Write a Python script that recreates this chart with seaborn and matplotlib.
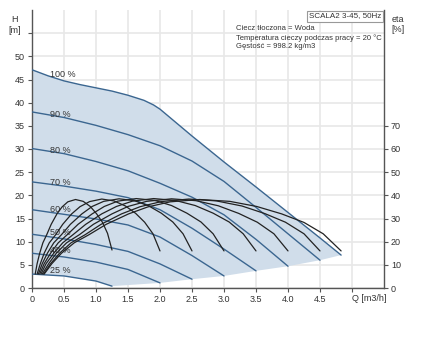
import matplotlib
matplotlib.use("Agg")
import matplotlib.pyplot as plt
import seaborn as sns
import pandas as pd

sns.set_style("whitegrid")
plt.rcParams['font.family'] = ['Liberation Sans', 'DejaVu Sans']
plt.rcParams['font.size'] = 7

# krzywe pompy: Q [m3/h], H [m]
q_100 = [0, 0.25, 0.5, 0.75, 1.0, 1.25, 1.5, 1.75, 1.9, 2.0, 2.25, 2.5, 3.0, 3.5, 4.0, 4.5, 4.83]
h_100 = [47.1, 45.8, 44.7, 43.9, 43.2, 42.5, 41.6, 40.5, 39.5, 38.6, 35.7, 32.8, 27.2, 21.8, 16.3, 10.8, 7.1]
q_90 = [0, 0.5, 1.0, 1.5, 2.0, 2.5, 3.0, 3.5, 4.0, 4.5]
h_90 = [38.0, 36.8, 35.1, 33.1, 30.7, 27.4, 23.0, 17.4, 11.7, 6.0]
q_80 = [0, 0.5, 1.0, 1.5, 2.0, 2.5, 3.0, 3.5, 4.0]
h_80 = [30.1, 29.0, 27.3, 25.3, 22.6, 19.6, 15.8, 10.5, 4.7]
q_70 = [0, 0.5, 1.0, 1.5, 2.0, 2.5, 3.0, 3.5]
h_70 = [22.9, 22.0, 20.9, 19.5, 16.9, 12.9, 8.4, 3.7]
q_60 = [0, 0.5, 1.0, 1.5, 2.0, 2.5, 3.0]
h_60 = [16.9, 15.9, 14.9, 13.6, 11.0, 7.0, 2.6]
q_50 = [0, 0.5, 1.0, 1.5, 2.0, 2.5]
h_50 = [11.6, 10.6, 9.4, 7.9, 5.2, 1.9]
q_40 = [0, 0.5, 1.0, 1.5, 2.0]
h_40 = [7.5, 6.7, 5.6, 4.0, 1.1]
q_25 = [0, 0.5, 1.0, 1.25]
h_25 = [3.0, 2.6, 1.5, 0.4]

etykiety = ['100 %', '90 %', '80 %', '70 %', '60 %', '50 %', '40 %', '25 %']
etykiety_h = [46.1, 37.5, 29.7, 22.7, 17.0, 11.9, 8.0, 3.7]

# krzywe sprawnosci: Q [m3/h], eta [%]
eq_25 = [0.05, 0.08, 0.12, 0.17, 0.23, 0.30, 0.39, 0.47, 0.56, 0.68, 0.80, 0.91, 1.01, 1.10, 1.18, 1.25]
eq_40 = [0.08, 0.13, 0.19, 0.27, 0.37, 0.48, 0.62, 0.75, 0.90, 1.09, 1.28, 1.46, 1.62, 1.76, 1.89, 2.0]
eq_50 = [0.10, 0.16, 0.24, 0.34, 0.46, 0.60, 0.78, 0.94, 1.12, 1.36, 1.60, 1.82, 2.02, 2.20, 2.36, 2.5]
eq_60 = [0.12, 0.19, 0.29, 0.41, 0.55, 0.72, 0.94, 1.13, 1.34, 1.63, 1.92, 2.18, 2.42, 2.64, 2.83, 3.0]
eq_70 = [0.14, 0.22, 0.34, 0.48, 0.64, 0.84, 1.09, 1.32, 1.57, 1.90, 2.24, 2.55, 2.83, 3.08, 3.30, 3.5]
eq_80 = [0.16, 0.26, 0.38, 0.54, 0.74, 0.96, 1.25, 1.50, 1.79, 2.18, 2.56, 2.91, 3.23, 3.52, 3.78, 4.0]
eq_90 = [0.18, 0.29, 0.43, 0.61, 0.83, 1.08, 1.40, 1.69, 2.02, 2.45, 2.88, 3.28, 3.64, 3.96, 4.25, 4.5]
eq_100 = [0.19, 0.31, 0.46, 0.66, 0.89, 1.16, 1.51, 1.81, 2.16, 2.62, 3.09, 3.51, 3.90, 4.25, 4.55, 4.83]
eta_25 = [6.0, 10.5, 15.0, 19.5, 23.0, 27.5, 32.0, 35.0, 37.2, 38.2, 37.4, 35.2, 32.0, 28.4, 23.6, 16.4]
eta_40 = [6.0, 10.5, 15.0, 19.5, 23.0, 27.5, 32.0, 35.1, 37.3, 38.4, 37.6, 35.4, 32.2, 28.4, 23.4, 16.0]
eta_50 = [6.0, 10.5, 15.0, 19.5, 23.0, 27.5, 32.0, 35.2, 37.4, 38.5, 37.7, 35.5, 32.3, 28.5, 23.4, 16.0]
eta_60 = [6.0, 10.5, 15.0, 19.5, 23.0, 27.5, 32.0, 35.2, 37.5, 38.6, 37.8, 35.6, 32.3, 28.5, 23.4, 16.0]
eta_70 = [6.0, 10.5, 15.0, 19.5, 23.0, 27.5, 32.0, 35.2, 37.5, 38.6, 37.8, 35.6, 32.3, 28.5, 23.4, 16.0]
eta_80 = [6.0, 10.5, 15.0, 19.5, 23.0, 27.5, 32.0, 35.2, 37.4, 38.5, 37.7, 35.5, 32.2, 28.4, 23.4, 16.0]
eta_90 = [6.0, 10.5, 15.0, 19.5, 23.0, 27.5, 32.0, 35.1, 37.3, 38.4, 37.6, 35.4, 32.1, 28.4, 23.4, 16.0]
eta_100 = [6.0, 10.5, 15.0, 19.5, 23.0, 27.5, 32.0, 35.0, 37.2, 38.2, 37.4, 35.2, 32.0, 28.3, 23.4, 16.0]

krzywe = [(q_100, h_100), (q_90, h_90), (q_80, h_80), (q_70, h_70),
          (q_60, h_60), (q_50, h_50), (q_40, h_40), (q_25, h_25)]
sprawnosci = [(eq_25, eta_25), (eq_40, eta_40), (eq_50, eta_50), (eq_60, eta_60),
              (eq_70, eta_70), (eq_80, eta_80), (eq_90, eta_90), (eq_100, eta_100)]

NIEBIESKI = '#3b6690'
SZARY = '#555555'
TEKST = '#333333'

fig = plt.figure(figsize=(4.48, 3.59), dpi=100)
ax = fig.add_axes([32 / 448, 1 - 288 / 359, 352 / 448, 278 / 359])

# obszar pracy (pod 100 %, nad 25 %)
obszar_q = q_100 + [q[-1] for q, h in krzywe[1:]] + q_25[::-1][1:]
obszar_h = h_100 + [h[-1] for q, h in krzywe[1:]] + h_25[::-1][1:]
ax.fill(obszar_q, obszar_h, color='#d0ddea', lw=0, zorder=1)

for q, h in krzywe:
    df = pd.DataFrame({'Q': q, 'H': h})
    sns.lineplot(data=df, x='Q', y='H', ax=ax, color=NIEBIESKI, lw=1.0, sort=False, zorder=3)

for txt, hy in zip(etykiety, etykiety_h):
    ax.text(0.28, hy, txt, fontsize=6.5, color=TEKST, ha='left', va='center', zorder=5)

ax.set_xlim(0, 5.5)
ax.set_ylim(0, 60)
ax.set_xticks([0, 0.5, 1.0, 1.5, 2.0, 2.5, 3.0, 3.5, 4.0, 4.5, 5.0])
ax.set_xticklabels(['0', '0.5', '1.0', '1.5', '2.0', '2.5', '3.0', '3.5', '4.0', '4.5', ''])
ax.set_yticks(range(0, 60, 5))
ax.set_yticklabels([str(v) for v in range(0, 55, 5)] + [''])
ax.set_xlabel('')
ax.set_ylabel('')
ax.grid(True, color='#e8e8e8', lw=1.2)
ax.tick_params(axis='both', length=3, width=0.8, color=SZARY, labelsize=6.5,
               labelcolor=TEKST, pad=2, bottom=True, left=True)
for s in ['top', 'right']:
    ax.spines[s].set_visible(False)
for s in ['left', 'bottom']:
    ax.spines[s].set_color(SZARY)
    ax.spines[s].set_linewidth(1.0)

ax.text(5.0, -1.3, 'Q [m3/h]', ha='left', va='top', fontsize=6.5, color=TEKST)
ax.text(-0.27, 57.9, 'H', ha='center', va='center', fontsize=6.5, color=TEKST, clip_on=False)
ax.text(-0.27, 55.6, '[m]', ha='center', va='center', fontsize=6.5, color=TEKST, clip_on=False)

# os sprawnosci
ax2 = ax.twinx()
for q, e in sprawnosci:
    df = pd.DataFrame({'Q': q, 'eta': e})
    sns.lineplot(data=df, x='Q', y='eta', ax=ax2, color='#222222', lw=0.9, sort=False, zorder=4)
ax2.set_ylim(0, 120)
ax2.set_yticks(range(0, 80, 10))
ax2.grid(False)
ax2.set_ylabel('')
ax2.tick_params(axis='y', length=3, width=0.8, color=SZARY, labelsize=6.5,
                labelcolor=TEKST, pad=2, right=True)
for s in ['top', 'left', 'bottom']:
    ax2.spines[s].set_visible(False)
ax2.spines['right'].set_color(SZARY)
ax2.spines['right'].set_linewidth(1.0)
ax2.text(5.72, 116, 'eta', ha='center', va='center', fontsize=6.5, color=TEKST, clip_on=False)
ax2.text(5.72, 111.4, '[%]', ha='center', va='center', fontsize=6.5, color=TEKST, clip_on=False)

ax2.text(5.46, 58.7 * 2, 'SCALA2 3-45, 50Hz', ha='right', va='center', fontsize=5.8, color=TEKST,
         bbox=dict(boxstyle='square,pad=0.25', fc='white', ec='#999999', lw=0.8), zorder=6)
ax2.text(3.19, 55.9 * 2, 'Ciecz tłoczona = Woda', ha='left', va='center', fontsize=5.5, color=TEKST)
ax2.text(3.19, 53.95 * 2, 'Temperatura cieczy podczas pracy = 20 °C', ha='left', va='center',
         fontsize=5.5, color=TEKST)
ax2.text(3.19, 52.1 * 2, 'Gęstość = 998.2 kg/m3', ha='left', va='center', fontsize=5.5, color=TEKST)

fig.savefig('out.png', dpi=100)
